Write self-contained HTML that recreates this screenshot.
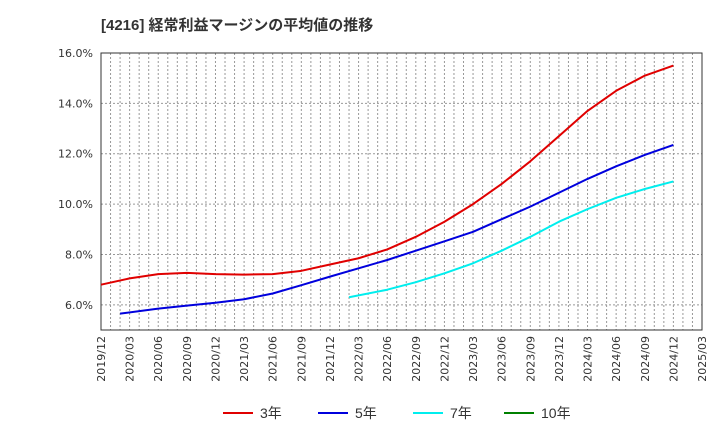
<!DOCTYPE html>
<html><head><meta charset="utf-8"><style>
body{margin:0;background:#fff;width:720px;height:440px;overflow:hidden;font-family:"Liberation Sans","Noto Sans CJK JP",sans-serif}
</style></head><body>
<svg width="720" height="440" id="c" font-family="Liberation Sans, Noto Sans CJK JP, sans-serif">
<text x="101" y="30" font-size="15" font-weight="bold" fill="#333">[4216]  経常利益マージンの平均値の推移</text>
</svg>
<script>
const xTickLabels=["2019/12","2020/03","2020/06","2020/09","2020/12","2021/03","2021/06","2021/09","2021/12","2022/03","2022/06","2022/09","2022/12","2023/03","2023/06","2023/09","2023/12","2024/03","2024/06","2024/09","2024/12","2025/03"];
const yTicks=[6,8,10,12,14,16];
const months3=[0,3,6,9,12,15,18,21,24,27,30,33,36,39,42,45,48,51,54,57,60];
const vals3=[6.8,7.05,7.22,7.27,7.22,7.2,7.22,7.35,7.6,7.85,8.2,8.7,9.3,10.0,10.8,11.7,12.7,13.7,14.5,15.1,15.5];
const months5=[2,6,9,12,15,18,21,24,27,30,33,36,39,42,45,48,51,54,57,60];
const vals5=[5.65,5.85,5.97,6.08,6.22,6.45,6.78,7.12,7.45,7.78,8.15,8.52,8.9,9.4,9.9,10.45,11.0,11.5,11.95,12.35];
const months7=[26,30,33,36,39,42,45,48,51,54,57,60];
const vals7=[6.3,6.6,6.9,7.25,7.65,8.15,8.7,9.3,9.8,10.25,10.6,10.9];
const L=101,R=702,T=53,B=330,yMin=5,yMax=16,mMax=63;
const X=m=>L+(R-L)*m/mMax, Y=v=>B-(B-T)*(v-yMin)/(yMax-yMin);
const s=document.getElementById('c'),NS='http://www.w3.org/2000/svg';
function mk(t,a,p){const e=document.createElementNS(NS,t);for(const k in a)e.setAttribute(k,a[k]);(p||s).appendChild(e);return e;}
for(let m=1;m<mMax;m++){const e=mk('line',{x1:X(m),x2:X(m),y1:T,y2:B,stroke:'#999','stroke-dasharray':'2,2','stroke-width':1});

}
yTicks.forEach(v=>{const g=mk('line',{x1:L,x2:R,y1:Y(v),y2:Y(v),stroke:'#999','stroke-dasharray':'2,2'});


const t=mk('text',{x:L-8,y:Y(v)+4,'text-anchor':'end','font-size':11,fill:'#333','font-family':'DejaVu Sans, sans-serif'});t.textContent=v.toFixed(1)+'%';

});
xTickLabels.forEach((lab,i)=>{const x=X(i*3);const t=mk('text',{x:0,y:0,transform:`translate(${x+4},${B+6}) rotate(-90)`,'text-anchor':'end','font-size':11,fill:'#333','font-family':'DejaVu Sans, sans-serif'});t.textContent=lab;

});
const box=mk('rect',{x:L,y:T,width:R-L,height:B-T,fill:'none',stroke:'#333','stroke-width':1});


function series(ms,vs,c,n){const p=mk('polyline',{points:ms.map((m,i)=>X(m)+','+Y(vs[i])).join(' '),fill:'none',stroke:c,'stroke-width':2,'stroke-linejoin':'round'});

}
series(months3,vals3,'#e00000','series-3y');
series(months5,vals5,'#0000dd','series-5y');
series(months7,vals7,'#00eeee','series-7y');
[['3年','#e00000',223],['5年','#0000dd',318],['7年','#00eeee',413],['10年','#008000',504]].forEach(([n,c,x])=>{
const l=mk('line',{x1:x,x2:x+30,y1:413,y2:413,stroke:c,'stroke-width':2});


const t=mk('text',{x:x+37,y:418,'font-size':14,fill:'#333'});t.textContent=n;

});
</script>
</body></html>
